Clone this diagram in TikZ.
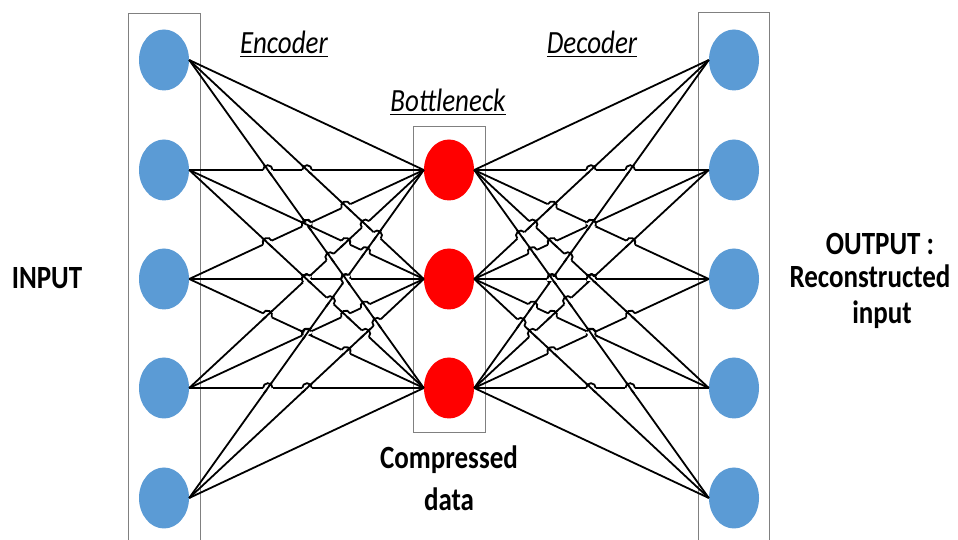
\documentclass[tikz,border=0pt]{standalone}
\usepackage{fontspec}
\setmainfont{Carlito}
\usetikzlibrary{shapes.geometric}
\definecolor{nblue}{RGB}{91,155,213}
\definecolor{boxgray}{RGB}{128,128,128}
\tikzset{
  conn/.style={line width=1.8pt, black},
  inneuron/.style={ellipse, fill=nblue, minimum width=50pt, minimum height=61pt, inner sep=0pt},
  hidneuron/.style={ellipse, fill=red, minimum width=50pt, minimum height=61pt, inner sep=0pt},
  grpbox/.style={draw=boxgray, line width=0.9pt},
  itlabel/.style={font=\fontsize{27}{29}\selectfont\itshape, inner sep=0pt, anchor=base, yscale=1.2},
  bdlabel/.style={font=\fontsize{27}{29}\selectfont\bfseries, inner sep=0pt, anchor=base, yscale=1.2}
}
% hop of the flatter line (a) over the steeper line (b): #1,#2 x range, #3->#4 line a, #5->#6 line b
\newcommand\hopdraw[6]{%
  \pgfmathsetmacro\hda{abs(#4-#3)}%
  \pgfmathsetmacro\hdb{abs(#6-#5)}%
  \pgfmathsetmacro\hden{(#4-#3)-(#6-#5)}%
  \pgfmathtruncatemacro\hok{(((\hda<\hdb-0.5)||((abs(\hda-\hdb)<0.5)&&((#4-#3)>0)))&&(abs(\hden)>0.5)) ? 1 : 0}%
  \ifnum\hok=1
    \pgfmathsetmacro\ht{(#5-#3)/\hden}%
    \pgfmathtruncatemacro\hin{((\ht>0.05)&&(\ht<0.95)) ? 1 : 0}%
    \ifnum\hin=1
      \pgfmathsetmacro\hpx{#1+\ht*(#2-#1)}%
      \pgfmathsetmacro\hpy{#3+\ht*(#4-#3)}%
      \pgfmathsetmacro\hth{atan2(#4-#3,#2-#1)}%
      \pgfmathsetmacro\hthb{\hth+180}%
      \pgfmathsetmacro\hph{atan2(#6-#5,#2-#1)}%
      \pgfmathsetmacro\hphb{\hph+180}%
      \draw[white,line width=3.8pt] (\hpx,\hpy) ++(\hthb:4.8) -- ++(\hth:9.6);
      \draw[conn] (\hpx,\hpy) ++(\hphb:7) -- ++(\hph:14);
      \draw[conn] (\hpx,\hpy) ++(\hthb:4.8) arc[start angle=\hthb,end angle=\hth,radius=4.8];
    \fi
  \fi
}
\begin{document}
\begin{tikzpicture}[x=1pt,y=1pt]
\useasboundingbox (0,0) rectangle (958,540);
\fill[white] (0,0) rectangle (958,540);
% group boxes
\draw[grpbox] (128,0) -- (128,527) -- (200,527) -- (200,0);
\draw[grpbox] (698,0) -- (698,528) -- (769,528) -- (769,0);
\draw[grpbox] (413,108) rectangle (485,414);
% neurons
\foreach \k/\y in {1/480,2/370,3/261,4/152,5/42}{
  \node[inneuron] (in\k) at (164,\y) {};
  \node[inneuron] (out\k) at (734,\y) {};
}
\foreach \k/\y in {1/370,2/261,3/152}{
  \node[hidneuron] (hid\k) at (449,\y) {};
}
% connections
\foreach \i in {1,...,5}{
  \foreach \j in {1,2,3}{
    \draw[conn] (in\i.east) -- (hid\j.west);
    \draw[conn] (hid\j.east) -- (out\i.west);
  }
}
% line hops
\foreach \ya in {480,370,261,152,42}{
 \foreach \yb in {370,261,152}{
  \foreach \yc in {480,370,261,152,42}{
   \foreach \yd in {370,261,152}{
     \hopdraw{189}{424}{\ya}{\yb}{\yc}{\yd}
     \hopdraw{474}{709}{\yb}{\ya}{\yd}{\yc}
   }
  }
 }
}
% labels
\node[itlabel] (enc) at (284,486) {\underline{Encoder}};
\node[itlabel] (bot) at (448,428) {\underline{Bottleneck}};
\node[itlabel] (dec) at (592,486) {\underline{Decoder}};
\node[bdlabel] (inp) at (47,251) {INPUT};
\node[bdlabel] (outa) at (880,285) {OUTPUT :};
\node[bdlabel] (outb) at (870,252) {Reconstructed};
\node[bdlabel] (outc) at (882,216) {input};
\node[bdlabel] (compa) at (449,71) {Compressed};
\node[bdlabel] (compb) at (449,29) {data};
\end{tikzpicture}
\end{document}
